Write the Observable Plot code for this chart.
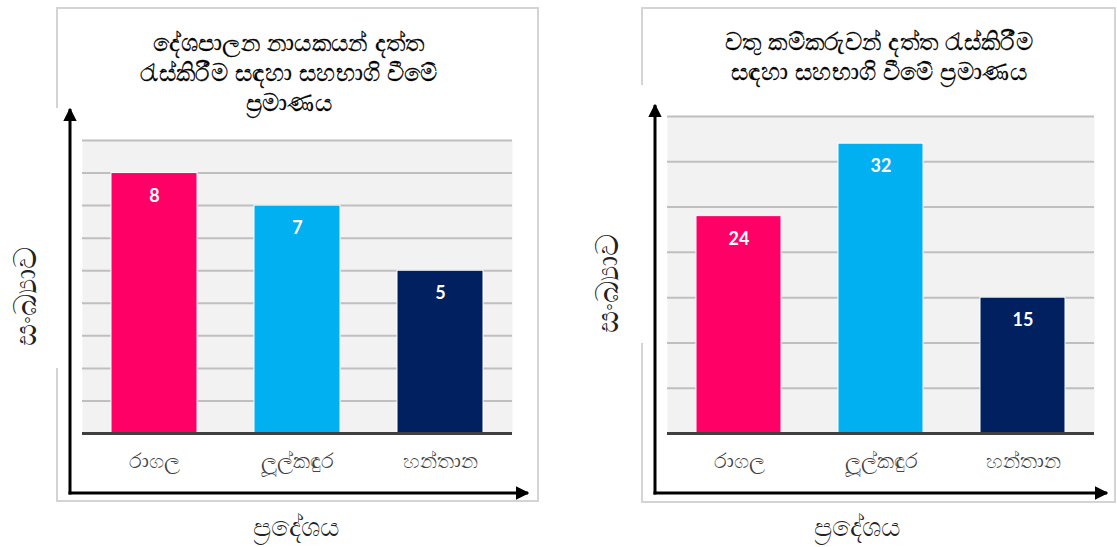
<!DOCTYPE html>
<html>
<head>
<meta charset="utf-8">
<script src="https://cdn.jsdelivr.net/npm/d3@7"></script>
<script src="https://cdn.jsdelivr.net/npm/@observablehq/plot@0.6"></script>
<style>
  body { margin: 0; background: #fff; font-family: "Noto Sans", "DejaVu Sans", sans-serif; }
  #root { position: relative; width: 1117px; height: 547px; overflow: hidden; }
  .panel { position: absolute; top: 0; }
  .tl { position: absolute; font-size: 24px; line-height: 22px; color: #000; white-space: nowrap; transform: translate(-50%, -50%); -webkit-text-stroke: 0.35px #000; letter-spacing: 0.4px; }
  .xt { position: absolute; font-size: 27px; line-height: 28px; color: #222; white-space: nowrap; transform: translate(-50%, -50%); }
  .yt { position: absolute; font-size: 31px; line-height: 32px; color: #222; white-space: nowrap; transform: translate(-50%, -50%) rotate(-90deg); }
  #deco { position: absolute; left: 0; top: 0; pointer-events: none; }
</style>
</head>
<body>
<div id="root"></div>
<script>
// ---- data ----
const regions = ["රාගල", "ලූල්කඳුර", "හන්තාන"];
const leaderValues = [8, 7, 5];
const workerValues = [24, 32, 15];
const barColors = ["#ff0066", "#00b0f0", "#002060"];
const leaderTicks = [0, 1, 2, 3, 4, 5, 6, 7, 8, 9];
const workerTicks = [0, 5, 10, 15, 20, 25, 30, 35];
const leaderTitle = ["දේශපාලන නායකයන් දත්ත", "රැස්කිරීම සඳහා සහභාගි වීමේ", "ප්‍රමාණය"];
const workerTitle = ["වතු කම්කරුවන් දත්ත රැස්කිරීම", "සඳහා සහභාගි වීමේ ප්‍රමාණය"];
const yTitle = "සංඛ්‍යාව";
const xTitle = "ප්‍රදේශය";

const root = document.getElementById("root");

function makePanel(values, ticks, opts) {
  const data = regions.map((r, i) => ({region: r, value: values[i]}));
  const chart = Plot.plot({
    width: 560,
    height: 547,
    marginLeft: opts.ml,
    marginRight: opts.mr,
    marginTop: opts.mt,
    marginBottom: 114,
    style: {background: "transparent", overflow: "visible"},
    x: {domain: regions, paddingInner: 0.4, paddingOuter: 0.2, axis: null},
    y: {domain: [0, ticks[ticks.length - 1]], axis: null},
    color: {domain: regions, range: barColors},
    marks: [
      Plot.frame({fill: "#f2f2f2", stroke: "none"}),
      Plot.ruleY(ticks, {stroke: "#bfbfbf", strokeWidth: 2}),
      Plot.barY(data, {x: "region", y: "value", fill: "region", stroke: "#fff", strokeWidth: 1}),
      Plot.ruleY([0], {stroke: "#404040", strokeWidth: 3}),
      Plot.text(data, {x: "region", y: "value", text: d => String(d.value), dy: 23,
        fill: "white", fontWeight: "bold", fontSize: 18, fontFamily: "Lato, 'Open Sans', sans-serif"}),
      Plot.axisX({tickSize: 0, tickPadding: 20, fontSize: 21, fill: "#444", label: null,
        fontFamily: "'Noto Sans', 'DejaVu Sans', sans-serif"})
    ]
  });
  const div = document.createElement("div");
  div.className = "panel";
  div.style.left = opts.left + "px";
  div.appendChild(chart);
  root.appendChild(div);
}

makePanel(leaderValues, leaderTicks, {left: 0, ml: 82, mr: 48, mt: 140});
makePanel(workerValues, workerTicks, {left: 557, ml: 110, mr: 23, mt: 116});

// ---- decorations: frames and axis arrows ----
const deco = d3.select(root).append("svg")
  .attr("id", "deco").attr("width", 1117).attr("height", 547);

const defs = deco.append("defs");
defs.append("marker").attr("id", "ah").attr("viewBox", "0 0 10 10")
  .attr("refX", 9).attr("refY", 5).attr("markerWidth", 4.5).attr("markerHeight", 4.5)
  .attr("markerUnits", "strokeWidth").attr("orient", "auto")
  .append("path").attr("d", "M0,0 L10,5 L0,10 z").attr("fill", "#000");

const boxes = [
  {x0: 57, x1: 538, y0: 8, y1: 501, gap0: 108, gap1: 368},
  {x0: 642, x1: 1115, y0: 8, y1: 502, gap0: 85, gap1: 343}
];
boxes.forEach(b => {
  const p = `M${b.x0},${b.gap0} L${b.x0},${b.y0} L${b.x1},${b.y0} L${b.x1},${b.y1} L${b.x0},${b.y1} L${b.x0},${b.gap1}`;
  deco.append("path").attr("d", p).attr("fill", "none").attr("stroke", "#d4d4d4").attr("stroke-width", 2);
});

const arrows = [
  {ox: 70, oy: 493, tipY: 107, tipX: 530},
  {ox: 655, oy: 493, tipY: 103, tipX: 1109}
];
arrows.forEach(a => {
  deco.append("line").attr("x1", a.ox).attr("y1", a.oy + 1.5).attr("x2", a.ox).attr("y2", a.tipY + 2)
    .attr("stroke", "#000").attr("stroke-width", 3).attr("marker-end", "url(#ah)");
  deco.append("line").attr("x1", a.ox - 1.5).attr("y1", a.oy).attr("x2", a.tipX - 2).attr("y2", a.oy)
    .attr("stroke", "#000").attr("stroke-width", 3).attr("marker-end", "url(#ah)");
});

// ---- texts ----
function addLabel(cls, text, x, y) {
  const d = document.createElement("div");
  d.className = cls;
  d.textContent = text;
  d.style.left = x + "px";
  d.style.top = y + "px";
  root.appendChild(d);
}
const leaderTitleY = [42, 72, 102];
const workerTitleY = [41, 71];
leaderTitle.forEach((l, i) => addLabel("tl", l, 289, leaderTitleY[i]));
workerTitle.forEach((l, i) => addLabel("tl", l, 879, workerTitleY[i]));

addLabel("xt", xTitle, 296, 526);
addLabel("xt", xTitle, 857, 526);
addLabel("yt", yTitle, 24, 296);
addLabel("yt", yTitle, 606, 283);
</script>
</body>
</html>
